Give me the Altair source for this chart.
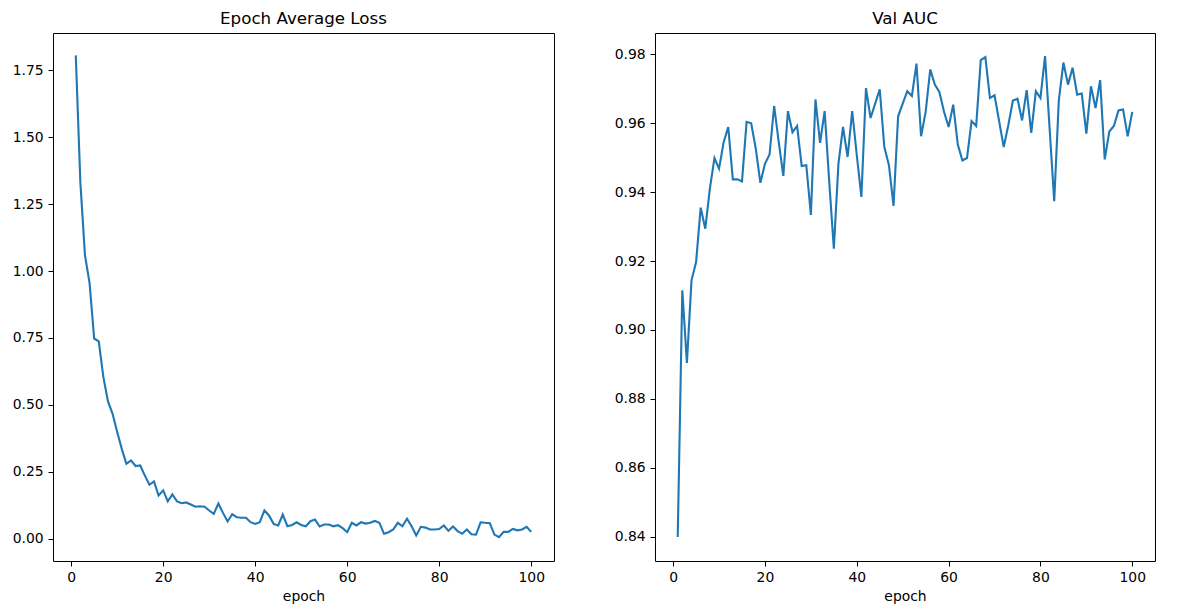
import altair as alt
import pandas as pd

epochs = list(range(1, 101))

loss = [1.805, 1.33, 1.059, 0.955, 0.748, 0.7375, 0.604, 0.513, 0.467, 0.399,
        0.336, 0.280, 0.293, 0.272, 0.274, 0.237, 0.202, 0.2145, 0.162, 0.181,
        0.140, 0.166, 0.140, 0.133, 0.136, 0.1285, 0.120, 0.122, 0.120, 0.106,
        0.0935, 0.132, 0.097, 0.065, 0.092, 0.081, 0.079, 0.079, 0.0625, 0.056,
        0.0625, 0.106, 0.0875, 0.056, 0.050, 0.091, 0.0475, 0.052, 0.062, 0.052,
        0.047, 0.066, 0.072, 0.046, 0.0535, 0.0535, 0.047, 0.051, 0.040, 0.025,
        0.060, 0.050, 0.062, 0.057, 0.060, 0.067, 0.060, 0.019, 0.025, 0.035,
        0.060, 0.047, 0.075, 0.047, 0.0125, 0.045, 0.042, 0.035, 0.035, 0.037,
        0.050, 0.030, 0.046, 0.029, 0.019, 0.035, 0.0175, 0.016, 0.062, 0.060,
        0.0585, 0.016, 0.006, 0.026, 0.026, 0.037, 0.032, 0.035, 0.045, 0.026]

auc = [0.8399, 0.9115, 0.8904, 0.9144, 0.9197, 0.9355, 0.9294, 0.941, 0.9499, 0.9468,
       0.9545, 0.9589, 0.9437, 0.9437, 0.9431, 0.9604, 0.9600, 0.9526, 0.9427, 0.9482,
       0.9509, 0.965, 0.9545, 0.9447, 0.9635, 0.9574, 0.9592, 0.9476, 0.9478, 0.9334,
       0.9669, 0.9543, 0.9635, 0.943, 0.9236, 0.9482, 0.9589, 0.9502, 0.9635, 0.9507,
       0.9386, 0.9702, 0.9615, 0.9657, 0.9698, 0.9531, 0.9478, 0.936, 0.9620, 0.9657,
       0.9693, 0.9679, 0.9773, 0.9562, 0.9633, 0.9756, 0.9712, 0.969, 0.9633, 0.9589,
       0.9654, 0.9538, 0.9492, 0.9499, 0.9606, 0.9592, 0.9783, 0.9792, 0.9673, 0.9681,
       0.9606, 0.9531, 0.9594, 0.9666, 0.9671, 0.9608, 0.9696, 0.9572, 0.9693, 0.9673,
       0.9795, 0.9584, 0.9374, 0.9666, 0.9776, 0.9712, 0.9761, 0.9683, 0.9686, 0.957,
       0.9707, 0.9644, 0.9725, 0.9495, 0.9576, 0.9592, 0.9637, 0.964, 0.9562, 0.9633]

x_ticks = [0, 20, 40, 60, 80, 100]
loss_ticks = [0.0, 0.25, 0.5, 0.75, 1.0, 1.25, 1.5, 1.75]
auc_ticks = [0.84, 0.86, 0.88, 0.90, 0.92, 0.94, 0.96, 0.98]

df = pd.DataFrame({"epoch": epochs, "loss": loss, "auc": auc})

x_enc = alt.X("epoch:Q",
              scale=alt.Scale(domain=[-3.95, 104.95], nice=False, zero=False),
              axis=alt.Axis(values=x_ticks, title="epoch"))

left = alt.Chart(df, title=alt.Title("Epoch Average Loss")).mark_line(
    color="#1f77b4", strokeWidth=2.1
).encode(
    x=x_enc,
    y=alt.Y("loss:Q",
            scale=alt.Scale(domain=[-0.0826, 1.8886], nice=False, zero=False),
            axis=alt.Axis(values=loss_ticks, format=".2f"),
            title=None),
).properties(width=501, height=528)

right = alt.Chart(df, title=alt.Title("Val AUC")).mark_line(
    color="#1f77b4", strokeWidth=2.1
).encode(
    x=x_enc,
    y=alt.Y("auc:Q",
            scale=alt.Scale(domain=[0.83295, 0.98618], nice=False, zero=False),
            axis=alt.Axis(values=auc_ticks, format=".2f"),
            title=None),
).properties(width=500, height=528)

chart = alt.hconcat(left, right, spacing=58).properties(
    padding={"left": 3, "top": 2, "right": 5, "bottom": 5}
).configure_view(
    stroke="black", strokeWidth=1
).configure_axis(
    domain=False, grid=False, tickColor="black", tickSize=5, tickWidth=1,
    labelColor="black", labelFont="DejaVu Sans", labelFontSize=13.9,
    labelPadding=4.9, titleFont="DejaVu Sans", titleFontSize=13.9,
    titleFontWeight="normal", titleColor="black", titlePadding=5
).configure_title(
    font="DejaVu Sans", fontSize=16.7, fontWeight="normal", color="black",
    offset=5, anchor="middle"
)

chart.save("out.html", embed_options={"renderer": "svg", "actions": False})
